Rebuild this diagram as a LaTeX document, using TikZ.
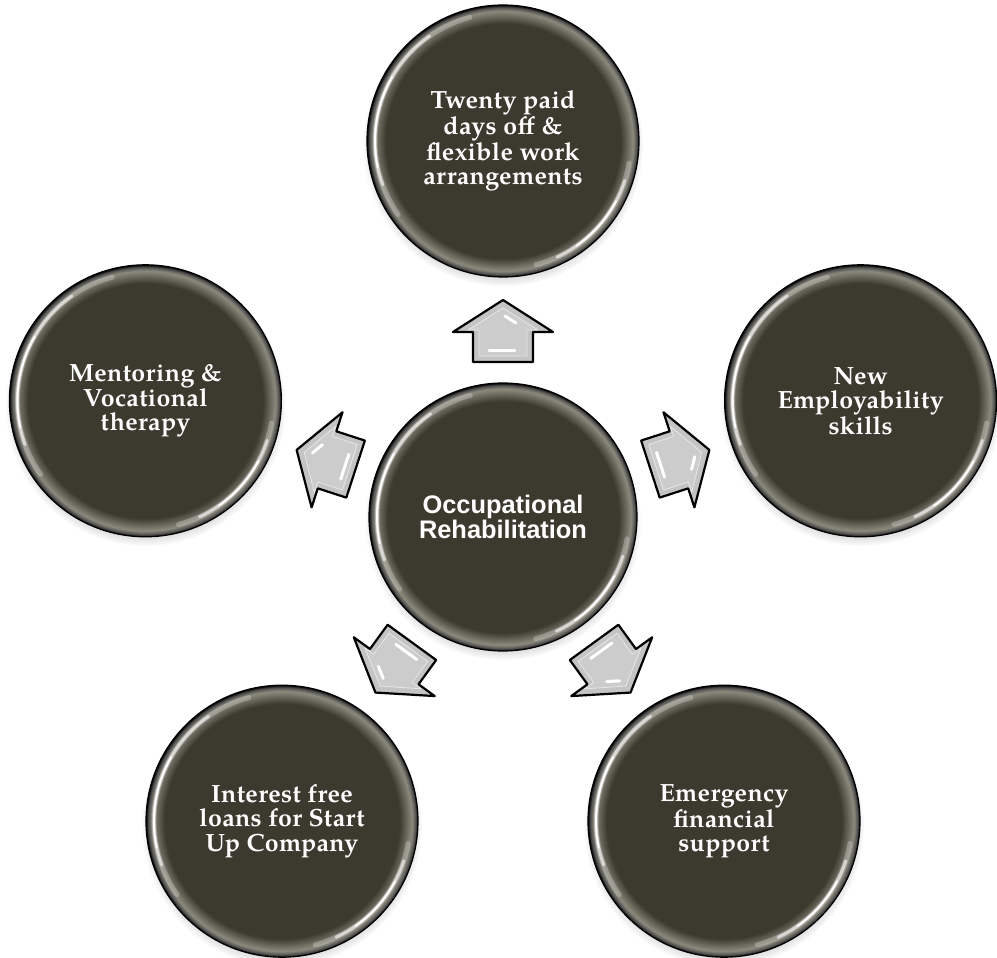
\documentclass[tikz,border=0pt]{standalone}
\usepackage{fontspec}
\newfontfamily\palfont[LetterSpace=1.5]{TeX Gyre Pagella}
\newfontfamily\arialfont{Liberation Sans}
\usetikzlibrary{calc,shadows}
\definecolor{ballfill}{RGB}{60,58,47}
\definecolor{ballrim}{RGB}{140,138,125}
\definecolor{arrowgray}{RGB}{196,196,196}
\pgfdeclareradialshading{ballshade}{\pgfpoint{0bp}{0bp}}{color(0bp)=(ballfill); color(21.6bp)=(ballfill); color(23.9bp)=(ballrim); color(24.6bp)=(black!70); color(25bp)=(black); color(50bp)=(black)}
\tikzset{
  ball/.style={circle, inner sep=0pt, minimum size=272bp, shading=ballshade,
    draw=black, line width=1.2bp,
    circular drop shadow={shadow xshift=0bp, shadow yshift=-5bp, shadow scale=1.03, opacity=.55},
    text=white, align=center,
    font=\palfont\bfseries\fontsize{25}{24.5}\selectfont},
  hub/.style={ball, minimum size=268bp, font=\arialfont\bfseries\fontsize{25.5}{25}\selectfont},
  hlwide/.style={white, opacity=.25, line width=5bp, line cap=round},
  hlmid/.style={white, opacity=.6, line width=3bp, line cap=round},
  hlcore/.style={white, line width=1.8bp, line cap=round},
  arrowbody/.style={fill=arrowgray, draw=black, line width=2.2bp, line join=round},
  arrowbevel/.style={draw=white, draw opacity=.55, line width=.8bp, fill=white, fill opacity=.15, line join=round},
  arrowshine/.style={white, line width=3bp, line cap=round},
  blockarrow/.pic={
    \path[arrowbody] (0,31) -- (50,-1) -- (30,-1) -- (30,-31) -- (-30,-31) -- (-30,-1) -- (-50,-1) -- cycle;
    \path[arrowbevel] (0,23) -- (35,1) -- (24,1) -- (24,-25) -- (-24,-25) -- (-24,1) -- (-35,1) -- cycle;
    \draw[arrowshine] (2,15) -- (13,8);
    \draw[arrowshine] (-14,-20) -- (12,-20);
  }
}
\begin{document}
\begin{tikzpicture}[x=1bp, y=1bp]
  \fill[white] (-503,-441) rectangle (494,517);
  \useasboundingbox (-503,-441) rectangle (494,517);

  \node[hub]  (c)  at (0,0)      {Occupational\\Rehabilitation};
  \node[ball] (t)  at (90:376)   {Twenty paid\\days off \&\\flexible work\\arrangements};
  \node[ball] (r)  at (18:376)   {New\\Employability\\skills};
  \node[ball] (l)  at (162:376)  {Mentoring \&\\Vocational\\therapy};
  \node[ball] (bl) at (234:376)  {Interest free\\loans for Start\\Up Company};
  \node[ball] (br) at (306:376)  {Emergency\\financial\\support};

  \foreach \n/\rr in {c/126,t/128,r/128,l/128,bl/128,br/128}{
    \draw[hlwide] ($(\n.center)+(105:\rr bp)$) arc[start angle=105, end angle=215, radius=\rr bp];
    \draw[hlmid]  ($(\n.center)+(125:\rr bp)$) arc[start angle=125, end angle=200, radius=\rr bp];
    \draw[hlcore] ($(\n.center)+(150:\rr bp)$) arc[start angle=150, end angle=192, radius=\rr bp];
    \draw[hlwide] ($(\n.center)+(285:\rr bp)$) arc[start angle=285, end angle=350, radius=\rr bp];
    \draw[hlmid]  ($(\n.center)+(295:\rr bp)$) arc[start angle=295, end angle=342, radius=\rr bp];
    \draw[hlcore] ($(\n.center)+(305:\rr bp)$) arc[start angle=305, end angle=332, radius=\rr bp];
  }

  \pic[rotate=0]    at ($(c.center)!186bp!(t.center)$)  {blockarrow};
  \pic[rotate=-72]  at ($(c.center)!186bp!(r.center)$)  {blockarrow};
  \pic[rotate=72]   at ($(c.center)!186bp!(l.center)$)  {blockarrow};
  \pic[rotate=144]  at ($(c.center)!186bp!(bl.center)$) {blockarrow};
  \pic[rotate=-144] at ($(c.center)!186bp!(br.center)$) {blockarrow};
\end{tikzpicture}
\end{document}
